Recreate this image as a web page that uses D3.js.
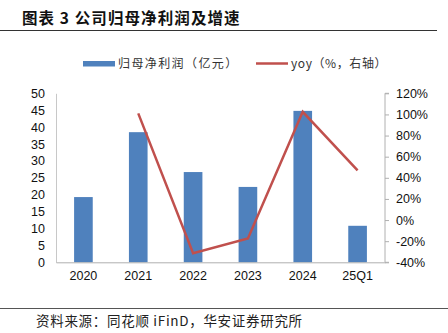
<!DOCTYPE html>
<html><head><meta charset="utf-8">
<script src="https://cdn.jsdelivr.net/npm/d3@7"></script>
<style>
html,body{margin:0;padding:0;background:#fff;}
svg{display:block;}
</style></head>
<body>
<svg id="c" width="448" height="333"></svg>
<script>
const categories = ["2020","2021","2022","2023","2024","25Q1"];
const profit = [19.3, 38.5, 26.7, 22.3, 44.8, 10.8];
const yoy = [null, 101, -31.4, -17.5, 102.5, 47];
const leftTicks = [0,5,10,15,20,25,30,35,40,45,50];
const rightTicks = [-40,-20,0,20,40,60,80,100,120];
const titleText = "图表 3 公司归母净利润及增速";
const sourceText = "资料来源：同花顺 iFinD，华安证券研究所";
const legendBar = "归母净利润（亿元）";
const legendLine = "yoy（%，右轴）";

const svg = d3.select("#c");
const L = 56, R = 385, T = 93.3, B = 262.3;
const font = "'Liberation Sans', Arial, sans-serif";
const cjk = "'Noto Sans CJK SC', sans-serif";

// title
svg.append("text").attr("x",22).attr("y",24).text(titleText).attr("letter-spacing",1.1)
  .attr("font-family",cjk).attr("font-weight","bold").attr("font-size",15.5).attr("fill","#111");
svg.append("line").attr("x1",0).attr("x2",437).attr("y1",30.5).attr("y2",30.5).attr("stroke","#333").attr("stroke-width",1.2);
svg.append("line").attr("x1",0).attr("x2",448).attr("y1",308.5).attr("y2",308.5).attr("stroke","#555").attr("stroke-width",1);
svg.append("text").attr("x",36).attr("y",326).text(sourceText).attr("letter-spacing",0.7)
  .attr("font-family",cjk).attr("font-size",13.5).attr("fill","#222");

const x = d3.scaleBand().domain(categories).range([L,R]).padding(0);
const y = d3.scaleLinear().domain([0,50]).range([B,T]);
const y2 = d3.scaleLinear().domain([-40,120]).range([B,T]);
const bw = x.bandwidth()*0.34;

// bars
svg.append("g").selectAll("rect").data(categories).join("rect")
  .attr("x",(d)=>x(d)+x.bandwidth()/2-bw/2)
  .attr("y",(d,i)=>y(profit[i]))
  .attr("width",bw)
  .attr("height",(d,i)=>B-y(profit[i]))
  .attr("fill","#4f81bd");

// left axis
const ga = svg.append("g").attr("transform",`translate(${L},0)`)
  .call(d3.axisLeft(y).tickValues(leftTicks).tickSize(0).tickPadding(11));
ga.select(".domain").attr("stroke","#c8c8c8");
ga.selectAll("text").attr("font-family",font).attr("font-size",12.5).attr("fill","#111");

// right axis
const gr = svg.append("g").attr("transform",`translate(${R},0)`)
  .call(d3.axisRight(y2).tickValues(rightTicks).tickSize(4).tickPadding(7).tickFormat(d=>d+"%"));
gr.selectAll(".domain,line").attr("stroke","#b0b0b0");
gr.select(".domain").attr("d",`M4,${T}H0V${B}H4`);
gr.selectAll("text").attr("font-family",font).attr("font-size",12.5).attr("fill","#111");

// bottom axis
const gb = svg.append("g").attr("transform",`translate(0,${B})`)
  .call(d3.axisBottom(x).tickSize(0).tickPadding(9));
gb.select(".domain").attr("stroke","#b0b0b0");
gb.selectAll("text").attr("font-family",font).attr("font-size",12.5).attr("fill","#111");

// line
const line = d3.line().defined(d=>d.v!==null)
  .x(d=>x(d.c)+x.bandwidth()/2).y(d=>y2(d.v));
svg.append("path").datum(categories.map((c,i)=>({c,v:yoy[i]})))
  .attr("d",line).attr("fill","none").attr("stroke","#c0504d").attr("stroke-width",2.5);

// legend
svg.append("rect").attr("x",83).attr("y",61).attr("width",32).attr("height",5.5).attr("fill","#4f81bd");
svg.append("text").attr("x",118).attr("y",68).text(legendBar)
  .attr("font-family",cjk).attr("font-size",12).attr("fill","#333").attr("letter-spacing",1.4);
svg.append("line").attr("x1",256).attr("x2",288).attr("y1",63.5).attr("y2",63.5).attr("stroke","#c0504d").attr("stroke-width",2.5);
svg.append("text").attr("x",291).attr("y",68).text(legendLine)
  .attr("font-family",cjk).attr("font-size",12).attr("fill","#333").attr("letter-spacing",0.6);
</script>
</body></html>
